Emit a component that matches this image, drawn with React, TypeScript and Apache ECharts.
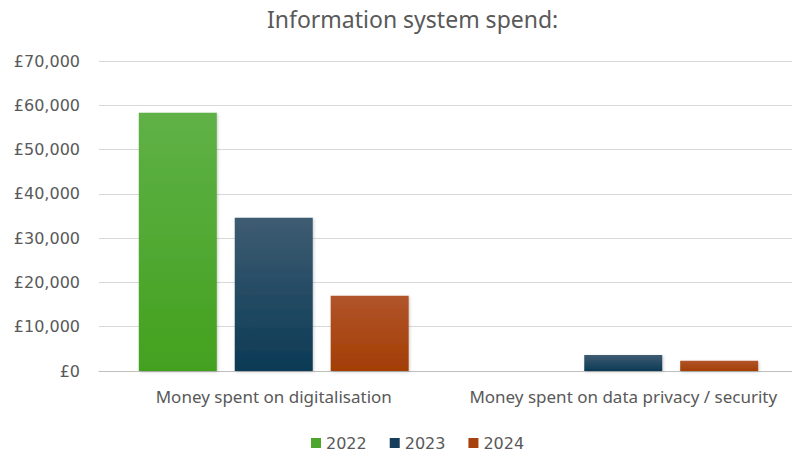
import React, { useEffect, useRef } from "react";
import * as echarts from "echarts";

const categories = ["Money spent on digitalisation", "Money spent on data privacy / security"];
const years = ["2022", "2023", "2024"];
const values2022 = [58300, 0];
const values2023 = [34600, 3600];
const values2024 = [17000, 2300];
const yTicks = [0, 10000, 20000, 30000, 40000, 50000, 60000, 70000];

const grad = (top: string, bottom: string) =>
  new echarts.graphic.LinearGradient(0, 0, 0, 1, [
    { offset: 0, color: top },
    { offset: 1, color: bottom },
  ]);

export default function App() {
  const ref = useRef<HTMLDivElement>(null);
  useEffect(() => {
    if (!ref.current) return;
    const chart = echarts.init(ref.current, null, { renderer: "svg" });
    const font = "'Noto Sans', 'Open Sans', sans-serif";
    const wideFont = "'DejaVu Sans', sans-serif";
    const colors = [
      grad("#5fb146", "#43a11f"),
      grad("#3e5c72", "#0b3a55"),
      grad("#b1542b", "#a33e04"),
    ];
    const legendColors = ["#4ea52e", "#163e5a", "#a7420f"];
    const data = [values2022, values2023, values2024];
    chart.setOption({
      animation: false,
      title: {
        text: "Information system spend:",
        left: 262,
        top: 2,
        textStyle: { color: "#595959", fontSize: 23, fontWeight: "normal", fontFamily: font },
      },
      legend: {
        top: 430,
        left: 306,
        itemWidth: 10,
        itemHeight: 10,
        itemGap: 23,
        icon: "rect",
        textStyle: { color: "#595959", fontSize: 16, fontFamily: wideFont },
        data: years.map((y, i) => ({ name: y, itemStyle: { color: legendColors[i] } })),
      },
      grid: { left: 99, top: 61, width: 699, bottom: 84, outerBoundsMode: "none" },
      xAxis: {
        type: "category",
        data: categories,
        axisTick: { show: false },
        axisLine: { lineStyle: { color: "#bfbfbf" } },
        axisLabel: {
          color: "#595959",
          fontSize: 17,
          margin: 17,
          fontFamily: font,
          interval: 0,
          hideOverlap: false,
        },
      },
      yAxis: {
        type: "value",
        min: 0,
        max: 70000,
        interval: 10000,
        splitLine: { lineStyle: { color: "#d9d9d9" } },
        axisLabel: {
          color: "#595959",
          fontSize: 16,
          margin: 19,
          fontFamily: wideFont,
          formatter: (v: number) => (yTicks.includes(v) ? "£" + v.toLocaleString("en-GB") : ""),
        },
      },
      series: years.map((y, i) => ({
        name: y,
        type: "bar",
        data: data[i],
        barWidth: 78,
        barGap: "23%",
        itemStyle: {
          color: colors[i],
          shadowColor: "rgba(0,0,0,0.2)",
          shadowBlur: 3,
          shadowOffsetX: 1,
          shadowOffsetY: 1,
        },
      })),
    });
    return () => chart.dispose();
  }, []);
  return (
    <div
      ref={ref}
      style={{ position: "fixed", left: 0, top: 0, width: 792, height: 455, background: "#fff" }}
    />
  );
}
